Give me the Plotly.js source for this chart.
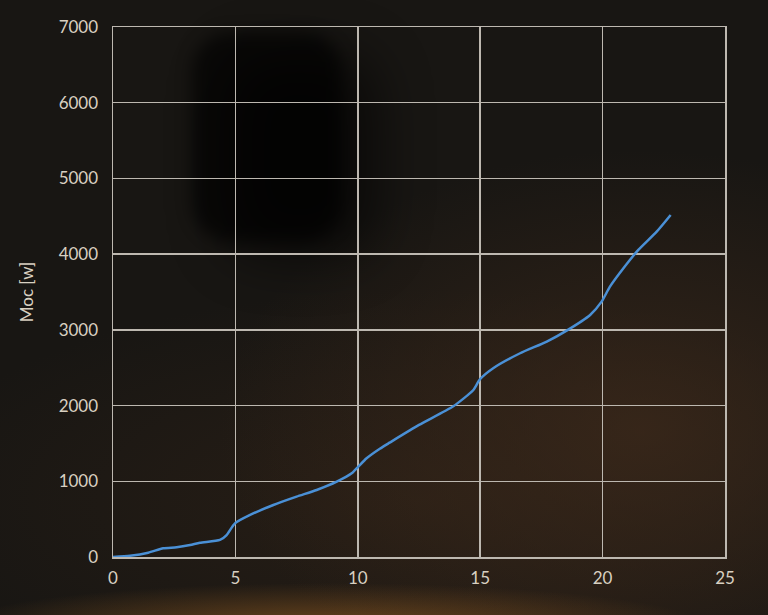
<!DOCTYPE html>
<html>
<head>
<meta charset="utf-8">
<script src="https://cdn.plot.ly/plotly-3.0.1.min.js"></script>
<style>
  html, body { margin: 0; padding: 0; }
  body {
    position: relative;
    width: 768px; height: 615px; overflow: hidden;
    background:
      radial-gradient(ellipse 380px 45px at 330px 628px, rgba(160,100,35,0.6), rgba(0,0,0,0) 100%),
      radial-gradient(ellipse 420px 280px at 640px 430px, rgba(62,42,27,0.75), rgba(0,0,0,0) 100%),
      radial-gradient(ellipse 520px 210px at 420px 500px, rgba(50,35,23,0.6), rgba(0,0,0,0) 100%),
      #181613;
  }
  .cien { position: absolute; border-radius: 40px; background: #000; }
  #cien1 { left: 192px; top: 32px; width: 150px; height: 210px; opacity: 0.6; filter: blur(8px); }
  #cien2 { left: 225px; top: 55px; width: 150px; height: 200px; opacity: 0.6; filter: blur(28px); }
  #chart { position: absolute; left: 0; top: 0; width: 768px; height: 615px; }
</style>
</head>
<body>
<div class="cien" id="cien1"></div>
<div class="cien" id="cien2"></div>
<div id="chart"></div>
<script>
// czas [s] i moc [W]
const czas = [0, 0.7, 1.44, 2.05, 2.6, 3.15, 3.55, 4.37, 4.64, 4.98, 5.6, 6.55, 7.5, 8.32, 9.14, 9.75, 10.02, 10.36, 10.9, 11.3, 12.5, 13.9, 14.72, 14.99, 15.53, 16.63, 17.72, 18.53, 19.49, 19.96, 20.3, 20.85, 21.46, 22.21, 22.78];
const moc = [0, 17, 57, 115, 128, 158, 189, 225, 290, 445, 555, 687, 797, 885, 995, 1105, 1193, 1304, 1430, 1510, 1744, 1990, 2206, 2347, 2493, 2691, 2845, 2990, 3197, 3373, 3571, 3814, 4056, 4298, 4518];

const kolorTekstu = '#d8d0c1';
const kolorSiatki = '#bdb8b0';

let dane = [{
    x: czas,
    y: moc,
    mode: 'lines',
    line: { color: '#4a90d6', width: 2.5, shape: 'spline', smoothing: 0.6 },
    hoverinfo: 'skip'
}];

let uklad = {
    width: 768,
    height: 615,
    margin: { l: 113, r: 43, t: 27, b: 58 },
    paper_bgcolor: 'rgba(0,0,0,0)',
    plot_bgcolor: 'rgba(0,0,0,0)',
    showlegend: false,
    font: { family: 'Lato, "Open Sans", sans-serif', color: kolorTekstu, size: 17 },
    xaxis: {
        range: [0, 25],
        dtick: 5,
        showgrid: true,
        gridcolor: kolorSiatki,
        gridwidth: 1.5,
        zeroline: false,
        showline: true,
        linecolor: kolorSiatki,
        linewidth: 1.5,
        mirror: true,
        ticks: '',
        ticklabelstandoff: 5,
        tickfont: { size: 17, color: kolorTekstu }
    },
    yaxis: {
        range: [0, 7000],
        dtick: 1000,
        showgrid: true,
        gridcolor: kolorSiatki,
        gridwidth: 1.5,
        zeroline: false,
        showline: true,
        linecolor: kolorSiatki,
        linewidth: 1.5,
        mirror: true,
        ticks: '',
        ticklabelstandoff: 10,
        tickfont: { size: 17, color: kolorTekstu },
        title: { text: 'Moc [w]', font: { size: 17, color: kolorTekstu }, standoff: 20 }
    }
};

Plotly.newPlot('chart', dane, uklad, { staticPlot: true, displayModeBar: false });
</script>
</body>
</html>
